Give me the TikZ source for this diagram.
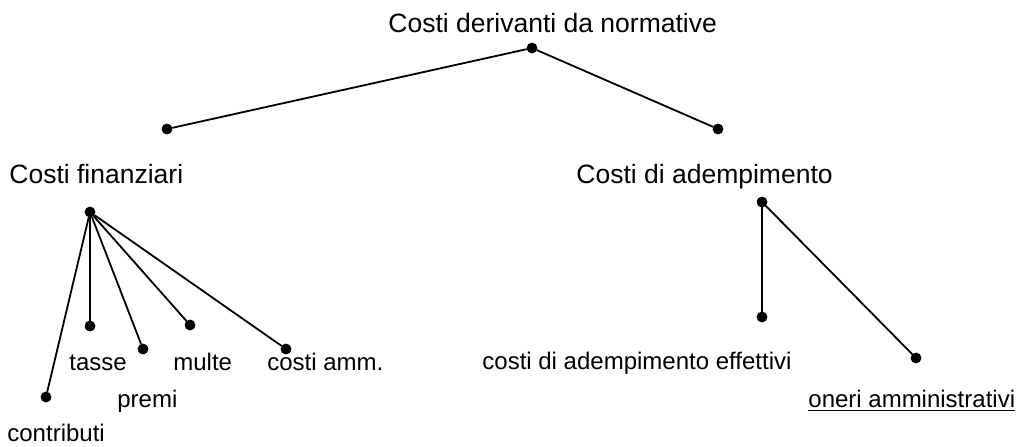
\documentclass[tikz,border=0pt]{standalone}
\usepackage{fontspec}
\setmainfont{Liberation Sans}
\usepackage{tikz}
\usetikzlibrary{positioning}

\begin{document}
\begin{tikzpicture}[
    x=0.5pt, y=-0.5pt,
    bullet/.style={draw, circle, fill=black, minimum size=5pt, inner sep=0pt},
    head/.style={anchor=base west, inner sep=0pt, font=\fontsize{13.25}{15}\selectfont},
    leaf/.style={anchor=base west, inner sep=0pt, font=\fontsize{12}{14}\selectfont},
    conn/.style={line width=0.9pt}
]
\useasboundingbox (0,0) rectangle (1016,446);

% Root
\node[head] (roottitle) at (388,32) {Costi derivanti da normative};
\node[bullet] (root) at (532,48) {};
\node[bullet] (fin) at (167,129) {};
\node[bullet] (adem) at (718,129) {};
\draw[conn] (root) -- (fin);
\draw[conn] (root) -- (adem);

% Costi finanziari
\node[head] (fintitle) at (9,183) {Costi finanziari};
\node[bullet] (f0) at (90,212) {};
\node[bullet] (fcontr) at (46,397) {};
\node[bullet] (ftasse) at (90,326) {};
\node[bullet] (fpremi) at (143,349) {};
\node[bullet] (fmulte) at (190,325) {};
\node[bullet] (famm) at (286,349) {};
\draw[conn] (f0) -- (fcontr);
\draw[conn] (f0) -- (ftasse);
\draw[conn] (f0) -- (fpremi);
\draw[conn] (f0) -- (fmulte);
\draw[conn] (f0) -- (famm);
\node[leaf] at (7,441) {contributi};
\node[leaf] at (69,370) {tasse};
\node[leaf] at (117,407) {premi};
\node[leaf] at (173,370) {multe};
\node[leaf] at (267,370) {costi amm.};

% Costi di adempimento
\node[head] (ademtitle) at (576,183) {Costi di adempimento};
\node[bullet] (a0) at (762,202) {};
\node[bullet] (aeff) at (762,317) {};
\node[bullet] (aoneri) at (916,358) {};
\draw[conn] (a0) -- (aeff);
\draw[conn] (a0) -- (aoneri);
\node[leaf] at (482,369) {costi di adempimento effettivi};
\node[leaf] at (808,407) {\underline{oneri amministrativi}};

\end{tikzpicture}
\end{document}
